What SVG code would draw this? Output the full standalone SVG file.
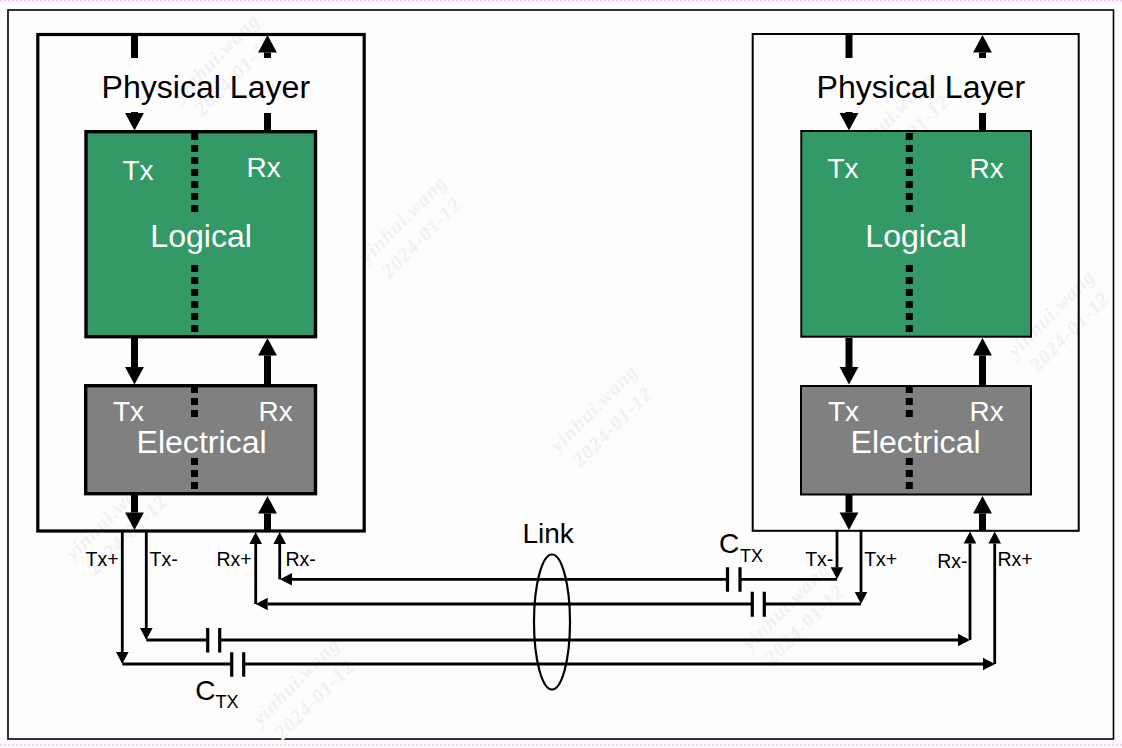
<svg xmlns="http://www.w3.org/2000/svg" width="1122" height="748" viewBox="0 0 1122 748">
<style>
.t{font-family:"Liberation Sans",Arial,sans-serif}
.k{fill:#000}.w{fill:#fff}
.s32{font-size:32.100px}.s28{font-size:28px}.s20{font-size:19.5px}.s18{font-size:18px}
.box{fill:none;stroke:#000}
.green{fill:#339966;stroke:#000}.gray{fill:#808080;stroke:#000}
.thick{stroke:#000;stroke-width:7;fill:none}
.thin{stroke:#000;stroke-width:2.8;fill:none}
.plate{stroke:#000;stroke-width:3.2;fill:none}
.dash{stroke:#000;stroke-width:7;stroke-dasharray:7 5;fill:none}
.wm{font-family:"Liberation Serif",serif;font-weight:bold;font-style:italic;font-size:20px;letter-spacing:1px;fill:#f2f1f2;text-anchor:middle}
</style>
<defs>
<marker id="big" markerUnits="userSpaceOnUse" markerWidth="20" markerHeight="22" refX="0" refY="10" orient="auto" overflow="visible"><path d="M0,0.6 L17.5,10 L0,19.4 Z" fill="#000"/></marker>
<marker id="small" markerUnits="userSpaceOnUse" markerWidth="14" markerHeight="14" refX="0" refY="7" orient="auto" overflow="visible"><path d="M0,0.7 L12,7 L0,13.3 Z" fill="#000"/></marker>
<pattern id="pink" width="4" height="4" patternUnits="userSpaceOnUse"><rect width="4" height="4" fill="#fff"/><rect width="2" height="2" fill="#f6d0f2"/><rect x="2" y="2" width="1" height="1" fill="#f9e0f6"/></pattern>
</defs>
<rect width="1122" height="748" fill="#fefdfe"/>
<g id="edge">
<rect width="1122" height="4" fill="url(#pink)"/>
<rect y="744" width="1122" height="4" fill="url(#pink)"/>
</g>
<rect id="frame" x="8" y="10" width="1105.5" height="729" fill="#fefdfe" stroke="#000" stroke-width="1.6"/>
<g id="watermarks">
<text class="wm" transform="translate(412,228) rotate(-45)"><tspan x="0" y="-6">yinhui.wang</tspan><tspan x="0" y="20">2024-01-12</tspan></text>
<text class="wm" transform="translate(603,417) rotate(-45)"><tspan x="0" y="-6">yinhui.wang</tspan><tspan x="0" y="20">2024-01-12</tspan></text>
<text class="wm" transform="translate(225,66) rotate(-45)"><tspan x="0" y="-6">yinhui.wang</tspan><tspan x="0" y="20">2024-01-12</tspan></text>
<text class="wm" transform="translate(1060,322) rotate(-45)"><tspan x="0" y="-6">yinhui.wang</tspan><tspan x="0" y="20">2024-01-12</tspan></text>
<text class="wm" transform="translate(900,125) rotate(-45)"><tspan x="0" y="-6">yinhui.wang</tspan><tspan x="0" y="20">2024-01-12</tspan></text>
<text class="wm" transform="translate(795,615) rotate(-45)"><tspan x="0" y="-6">yinhui.wang</tspan><tspan x="0" y="20">2024-01-12</tspan></text>
<text class="wm" transform="translate(118,525) rotate(-45)"><tspan x="0" y="-6">yinhui.wang</tspan><tspan x="0" y="20">2024-01-12</tspan></text>
<text class="wm" transform="translate(305,690) rotate(-45)"><tspan x="0" y="-6">yinhui.wang</tspan><tspan x="0" y="20">2024-01-12</tspan></text>
</g>
<g id="left-physical-layer">
<rect class="box" x="37.8" y="34.5" width="326.4" height="496.5" stroke-width="3.2"/>
<text class="t k s32" x="101.500" y="98">Physical Layer</text>
</g>
<g id="right-physical-layer">
<rect class="box" x="752.7" y="34" width="326" height="496.8" stroke-width="2"/>
<text class="t k s32" x="816.500" y="98">Physical Layer</text>
</g>
<g id="left-logical">
<rect class="green" x="86" y="131.7" width="229.500" height="205" stroke-width="3.4"/>
<path class="dash" d="M194.7,133V212M194.7,265V332"/>
<text class="t w s28" x="122.500" y="180">Tx</text>
<text class="t w s28" x="246.500" y="177">Rx</text>
<text class="t w s32" x="150.300" y="247">Logical</text>
</g>
<g id="right-logical">
<rect class="green" x="801.3" y="131" width="229.7" height="205.7" stroke-width="2"/>
<path class="dash" d="M909.3,133V212M909.3,265V332"/>
<text class="t w s28" x="827.500" y="178">Tx</text>
<text class="t w s28" x="969.500" y="178">Rx</text>
<text class="t w s32" x="865.300" y="247">Logical</text>
</g>
<g id="left-electrical">
<rect class="gray" x="85.7" y="385.7" width="229.8" height="108" stroke-width="3.4"/>
<path class="dash" d="M194.5,386V417M194.5,458V490"/>
<text class="t w s28" x="113" y="421">Tx</text>
<text class="t w s28" x="258.500" y="421">Rx</text>
<text class="t w s32" x="136.500" y="453">Electrical</text>
</g>
<g id="right-electrical">
<rect class="gray" x="801" y="386" width="230" height="108.5" stroke-width="2"/>
<path class="dash" d="M909.3,386V417M909.3,458V490"/>
<text class="t w s28" x="828" y="421">Tx</text>
<text class="t w s28" x="969.500" y="421">Rx</text>
<text class="t w s32" x="850.500" y="453">Electrical</text>
</g>
<g id="connectors">
<path class="thick" d="M134.5,36V58"/>
<path class="thick" d="M134.5,112V113" marker-end="url(#big)"/>
<path class="thick" d="M267.5,58V52.500" marker-end="url(#big)"/>
<path class="thick" d="M267.5,130V113"/>
<path class="thick" d="M134.5,338V367" marker-end="url(#big)"/>
<path class="thick" d="M267.5,385V355.500" marker-end="url(#big)"/>
<path class="thick" d="M134.5,495V512.500" marker-end="url(#big)"/>
<path class="thick" d="M267.5,530V513.500" marker-end="url(#big)"/>
<path class="thick" d="M849,35V58"/>
<path class="thick" d="M849,112V113" marker-end="url(#big)"/>
<path class="thick" d="M982.500,58V52.500" marker-end="url(#big)"/>
<path class="thick" d="M982.500,130V113"/>
<path class="thick" d="M849,338V367" marker-end="url(#big)"/>
<path class="thick" d="M982.500,385V355.500" marker-end="url(#big)"/>
<path class="thick" d="M849,495V512.500" marker-end="url(#big)"/>
<path class="thick" d="M982.500,530V513.500" marker-end="url(#big)"/>

<path class="thin" d="M122.300,531V652" marker-end="url(#small)"/>
<path class="thin" d="M122.300,664H231.700M243.700,664H983" marker-end="url(#small)"/>
<path class="thin" d="M994.700,664V543.500" marker-end="url(#small)"/>
<path class="plate" d="M231.700,652.300V676.700M243.700,652.300V676.700"/>

<path class="thin" d="M146.300,531V628" marker-end="url(#small)"/>
<path class="thin" d="M146.300,640H207.700M219.700,640H958" marker-end="url(#small)"/>
<path class="thin" d="M970,640V543.500" marker-end="url(#small)"/>
<path class="plate" d="M207.700,628V652.400M219.700,628V652.400"/>

<path class="thin" d="M255.700,604V544" marker-end="url(#small)"/>
<path class="thin" d="M861,604H764.300M752.300,604H267.700" marker-end="url(#small)"/>
<path class="thin" d="M861,531V592" marker-end="url(#small)"/>
<path class="plate" d="M752.300,591.700V616.700M764.300,591.700V616.700"/>

<path class="thin" d="M279.700,579.300V544" marker-end="url(#small)"/>
<path class="thin" d="M837,579.300H740M727.500,579.300H292" marker-end="url(#small)"/>
<path class="thin" d="M837,531V567.300" marker-end="url(#small)"/>
<path class="plate" d="M727.500,567.300V591.700M740,567.300V591.700"/>
</g>
<g id="link">
<ellipse cx="552" cy="622" rx="18" ry="67.500" fill="none" stroke="#000" stroke-width="2.200"/>
<text class="t k s28" x="522.500" y="543">Link</text>
</g>
<g id="labels">
<text class="t k s20" x="85.500" y="566">Tx+</text>
<text class="t k s20" x="149.500" y="566">Tx-</text>
<text class="t k s20" x="216.500" y="566">Rx+</text>
<text class="t k s20" x="285.500" y="566">Rx-</text>
<text class="t k s20" x="805.200" y="566">Tx-</text>
<text class="t k s20" x="864.200" y="566">Tx+</text>
<text class="t k s20" x="937.200" y="568">Rx-</text>
<text class="t k s20" x="997.500" y="566">Rx+</text>
<text class="t k s28" x="195.200" y="700">C</text>
<text class="t k s18" x="215.500" y="708">TX</text>
<text class="t k s28" x="719" y="553">C</text>
<text class="t k s18" x="740" y="561.500">TX</text>
</g>
</svg>
